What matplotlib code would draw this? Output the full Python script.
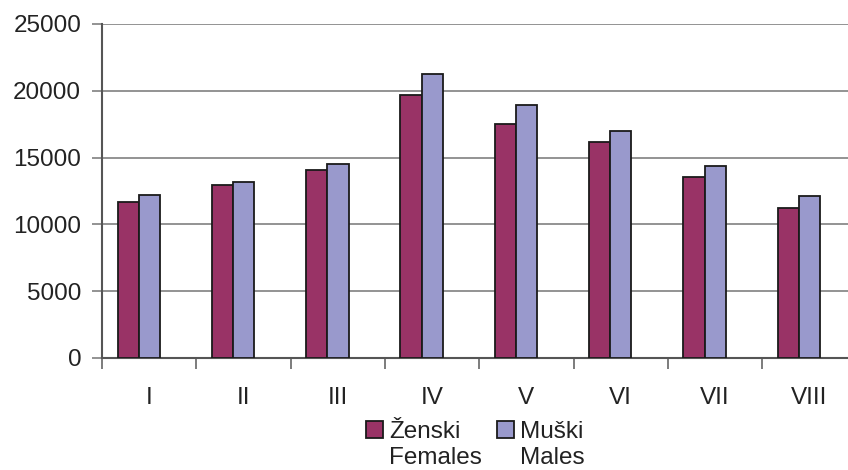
import matplotlib
matplotlib.use("Agg")
import matplotlib.pyplot as plt
import numpy as np

categories = ["I", "II", "III", "IV", "V", "VI", "VII", "VIII"]
females = [11650, 12930, 14050, 19690, 17540, 16180, 13550, 11250]
males = [12220, 13200, 14550, 21240, 18910, 16990, 14370, 12100]
yticks = [0, 5000, 10000, 15000, 20000, 25000]
label_f = "Ženski\nFemales"
label_m = "Muški\nMales"

plt.rcParams['font.family'] = ['Liberation Sans', 'DejaVu Sans']

W, H = 848, 470
fig = plt.figure(figsize=(W / 100, H / 100), dpi=100)
ax = fig.add_axes([102 / W, (H - 358) / H, 754.4 / W, 334 / H])

x = np.arange(len(categories))
bw = 0.225
off = -0.11
ax.bar(x + off - bw / 2, females, bw, color="#993366", edgecolor="#1a1a1a",
       linewidth=1.3, label=label_f, zorder=3)
ax.bar(x + off + bw / 2, males, bw, color="#9999CC", edgecolor="#1a1a1a",
       linewidth=1.3, label=label_m, zorder=3)

FS = 17.5
ax.set_xlim(-0.5, len(categories) - 0.5)
ax.set_ylim(0, 25000)
ax.set_yticks(yticks)
ax.set_yticklabels([str(v) for v in yticks], fontsize=FS, color="#222222")
ax.yaxis.grid(True, color="#808080", linewidth=1.2, zorder=0)

ax.set_xticks(np.arange(len(categories) + 1) - 0.5)
ax.set_xticklabels([])
ax.set_xticks(x, minor=True)
ax.set_xticklabels(categories, minor=True, fontsize=FS, color="#222222")
ax.tick_params(axis="x", which="minor", length=0, pad=21)
ax.tick_params(axis="x", which="major", length=8, width=1.2, color="#666666")
ax.tick_params(axis="y", length=7, width=1.2, color="#808080", pad=8)

for s in ["top", "right"]:
    ax.spines[s].set_visible(False)
for s in ["left", "bottom"]:
    ax.spines[s].set_color("#555555")
    ax.spines[s].set_linewidth(1.5)

leg = fig.legend(loc="upper left", bbox_to_anchor=(366 / W, 1 - 421 / H), ncol=2,
                 frameon=False, fontsize=FS, handlelength=0.7, handleheight=0.7,
                 handletextpad=0.25, columnspacing=0.6, labelspacing=0.1,
                 borderpad=0, borderaxespad=0)
for t in leg.get_texts():
    t.set_color("#222222")
    t.set_linespacing(1.22)
for col in leg._legend_handle_box.get_children():
    for row in col.get_children():
        row.align = "top"

fig.savefig("out.png", dpi=100)
